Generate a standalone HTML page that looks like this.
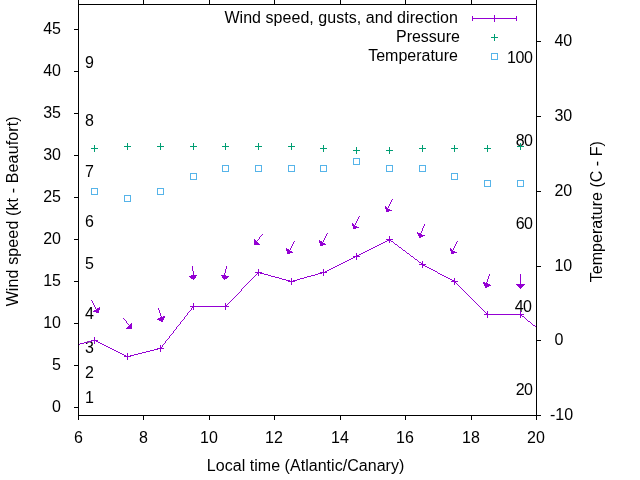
<!DOCTYPE html>
<html><head><meta charset="utf-8"><title>Wind speed, gusts, and direction</title>
<style>
html,body{margin:0;padding:0;background:#fff;}
svg{display:block;}
text{font-family:"Liberation Sans",sans-serif;font-size:16px;fill:#000;}
</style></head><body>
<svg width="640" height="480" viewBox="0 0 640 480">
<rect width="640" height="480" fill="#fff"/>
<g text-anchor="end">
<text x="61" y="412">0</text>
<text x="61" y="370">5</text>
<text x="61" y="328">10</text>
<text x="61" y="286">15</text>
<text x="61" y="244">20</text>
<text x="61" y="202">25</text>
<text x="61" y="160">30</text>
<text x="61" y="118">35</text>
<text x="61" y="76">40</text>
<text x="61" y="34">45</text>
</g>
<g text-anchor="start">
<text x="550" y="420">-10</text>
<text x="554.4" y="345">0</text>
<text x="554.4" y="271">10</text>
<text x="554.4" y="196">20</text>
<text x="554.4" y="121">30</text>
<text x="554.4" y="46">40</text>
</g>
<g text-anchor="middle">
<text x="78.5" y="443">6</text>
<text x="143.5" y="443">8</text>
<text x="208.9" y="443">10</text>
<text x="273.9" y="443">12</text>
<text x="339.9" y="443">14</text>
<text x="404.9" y="443">16</text>
<text x="470.9" y="443">18</text>
<text x="535.9" y="443">20</text>
</g>
<text text-anchor="middle" letter-spacing="0.13" transform="translate(18,211.3) rotate(-90)">Wind speed (kt - Beaufort)</text>
<text text-anchor="middle" letter-spacing="0.03" transform="translate(602,211.7) rotate(-90)">Temperature (C - F)</text>
<text text-anchor="middle" x="305.6" y="471" letter-spacing="0.035">Local time (Atlantic/Canary)</text>
<g text-anchor="start">
<text x="85" y="403">1</text>
<text x="85" y="378">2</text>
<text x="85" y="353">3</text>
<text x="85" y="319">4</text>
<text x="85" y="269">5</text>
<text x="85" y="227">6</text>
<text x="85" y="177">7</text>
<text x="85" y="126">8</text>
<text x="85" y="68">9</text>
</g>
<g text-anchor="end">
<text x="532.3" y="395" letter-spacing="-0.6">20</text>
<text x="531.4" y="312" letter-spacing="-0.6">40</text>
<text x="532.3" y="229" letter-spacing="-0.6">60</text>
<text x="532.3" y="146" letter-spacing="-0.6">80</text>
<text x="532.6" y="63" letter-spacing="-0.4">100</text>
</g>
<g text-anchor="end">
<text x="458" y="23" letter-spacing="0.045">Wind speed, gusts, and direction</text>
<text x="460" y="42">Pressure</text>
<text x="458" y="61">Temperature</text>
</g>
<g shape-rendering="crispEdges" stroke="none">
<path fill="#9400d3" d="M494 15h1v1h-1zM472 16h1v1h-1zM494 16h1v1h-1zM516 16h1v1h-1zM472 17h1v1h-1zM494 17h1v1h-1zM516 17h1v1h-1zM472 18h45v1h-45zM472 19h1v1h-1zM494 19h1v1h-1zM516 19h1v1h-1zM472 20h1v1h-1zM494 20h1v1h-1zM516 20h1v1h-1zM494 21h1v1h-1zM392 199h1v1h-1zM391 200h1v1h-1zM391 201h1v1h-1zM390 202h1v1h-1zM390 203h1v1h-1zM389 204h1v1h-1zM389 205h1v1h-1zM385 206h1v1h-1zM388 206h1v1h-1zM385 207h2v1h-2zM388 207h1v1h-1zM385 208h3v1h-3zM386 209h4v1h-4zM386 210h6v1h-6zM386 211h3v1h-3zM359 216h1v1h-1zM358 217h1v1h-1zM358 218h1v1h-1zM357 219h1v1h-1zM357 220h1v1h-1zM356 221h1v1h-1zM356 222h1v1h-1zM352 223h1v1h-1zM355 223h1v1h-1zM352 224h2v1h-2zM355 224h1v1h-1zM424 224h1v1h-1zM352 225h3v1h-3zM424 225h1v1h-1zM353 226h4v1h-4zM423 226h1v1h-1zM353 227h6v1h-6zM423 227h1v1h-1zM353 228h3v1h-3zM422 228h1v1h-1zM422 229h1v1h-1zM422 230h1v1h-1zM421 231h1v1h-1zM417 232h1v1h-1zM421 232h1v1h-1zM327 233h1v1h-1zM417 233h4v1h-4zM262 234h1v1h-1zM326 234h1v1h-1zM418 234h4v1h-4zM261 235h1v1h-1zM326 235h1v1h-1zM418 235h7v1h-7zM260 236h1v1h-1zM325 236h1v1h-1zM389 236h1v1h-1zM419 236h4v1h-4zM259 237h1v1h-1zM325 237h1v1h-1zM389 237h1v1h-1zM419 237h2v1h-2zM259 238h1v1h-1zM324 238h1v1h-1zM389 238h1v1h-1zM254 239h1v1h-1zM258 239h1v1h-1zM324 239h1v1h-1zM386 239h7v1h-7zM254 240h2v1h-2zM257 240h1v1h-1zM319 240h1v1h-1zM323 240h1v1h-1zM387 240h4v1h-4zM254 241h3v1h-3zM294 241h1v1h-1zM319 241h3v1h-3zM323 241h1v1h-1zM385 241h2v1h-2zM389 241h1v1h-1zM391 241h2v1h-2zM457 241h1v1h-1zM254 242h4v1h-4zM293 242h1v1h-1zM319 242h4v1h-4zM383 242h2v1h-2zM389 242h1v1h-1zM393 242h1v1h-1zM456 242h1v1h-1zM254 243h5v1h-5zM293 243h1v1h-1zM320 243h5v1h-5zM381 243h2v1h-2zM394 243h1v1h-1zM456 243h1v1h-1zM254 244h6v1h-6zM292 244h1v1h-1zM320 244h6v1h-6zM379 244h2v1h-2zM395 244h2v1h-2zM455 244h1v1h-1zM292 245h1v1h-1zM320 245h3v1h-3zM377 245h2v1h-2zM397 245h1v1h-1zM455 245h1v1h-1zM291 246h1v1h-1zM375 246h2v1h-2zM398 246h1v1h-1zM454 246h1v1h-1zM291 247h1v1h-1zM373 247h2v1h-2zM399 247h2v1h-2zM454 247h1v1h-1zM286 248h1v1h-1zM290 248h1v1h-1zM371 248h2v1h-2zM401 248h1v1h-1zM450 248h1v1h-1zM453 248h1v1h-1zM286 249h3v1h-3zM290 249h1v1h-1zM369 249h2v1h-2zM402 249h1v1h-1zM450 249h2v1h-2zM453 249h1v1h-1zM286 250h4v1h-4zM367 250h2v1h-2zM403 250h2v1h-2zM450 250h3v1h-3zM287 251h5v1h-5zM365 251h2v1h-2zM405 251h1v1h-1zM451 251h4v1h-4zM287 252h6v1h-6zM363 252h2v1h-2zM406 252h1v1h-1zM451 252h6v1h-6zM287 253h3v1h-3zM356 253h1v1h-1zM361 253h2v1h-2zM407 253h2v1h-2zM451 253h3v1h-3zM356 254h1v1h-1zM359 254h2v1h-2zM409 254h1v1h-1zM356 255h3v1h-3zM410 255h1v1h-1zM353 256h7v1h-7zM411 256h2v1h-2zM353 257h2v1h-2zM356 257h1v1h-1zM413 257h1v1h-1zM351 258h2v1h-2zM356 258h1v1h-1zM414 258h1v1h-1zM349 259h2v1h-2zM356 259h1v1h-1zM415 259h2v1h-2zM347 260h2v1h-2zM417 260h1v1h-1zM345 261h2v1h-2zM418 261h1v1h-1zM422 261h1v1h-1zM343 262h2v1h-2zM419 262h2v1h-2zM422 262h1v1h-1zM341 263h2v1h-2zM421 263h2v1h-2zM339 264h2v1h-2zM419 264h7v1h-7zM337 265h2v1h-2zM422 265h3v1h-3zM192 266h1v1h-1zM226 266h1v1h-1zM335 266h2v1h-2zM422 266h1v1h-1zM425 266h2v1h-2zM192 267h1v1h-1zM226 267h1v1h-1zM333 267h2v1h-2zM422 267h1v1h-1zM427 267h2v1h-2zM192 268h1v1h-1zM226 268h1v1h-1zM331 268h2v1h-2zM429 268h2v1h-2zM192 269h1v1h-1zM225 269h1v1h-1zM258 269h1v1h-1zM323 269h1v1h-1zM329 269h2v1h-2zM431 269h2v1h-2zM192 270h1v1h-1zM225 270h1v1h-1zM258 270h1v1h-1zM323 270h1v1h-1zM327 270h2v1h-2zM433 270h2v1h-2zM193 271h1v1h-1zM225 271h1v1h-1zM258 271h1v1h-1zM323 271h1v1h-1zM325 271h2v1h-2zM435 271h2v1h-2zM193 272h1v1h-1zM225 272h1v1h-1zM255 272h7v1h-7zM320 272h7v1h-7zM437 272h1v1h-1zM193 273h1v1h-1zM224 273h1v1h-1zM257 273h2v1h-2zM260 273h4v1h-4zM318 273h4v1h-4zM323 273h1v1h-1zM438 273h2v1h-2zM193 274h1v1h-1zM224 274h1v1h-1zM256 274h1v1h-1zM258 274h1v1h-1zM264 274h4v1h-4zM315 274h3v1h-3zM323 274h1v1h-1zM440 274h2v1h-2zM489 274h1v1h-1zM520 274h1v1h-1zM191 275h6v1h-6zM221 275h5v1h-5zM255 275h1v1h-1zM258 275h1v1h-1zM268 275h3v1h-3zM311 275h4v1h-4zM323 275h1v1h-1zM442 275h2v1h-2zM489 275h1v1h-1zM520 275h1v1h-1zM189 276h7v1h-7zM222 276h7v1h-7zM254 276h1v1h-1zM271 276h4v1h-4zM307 276h4v1h-4zM444 276h2v1h-2zM488 276h1v1h-1zM520 276h1v1h-1zM190 277h6v1h-6zM222 277h6v1h-6zM253 277h1v1h-1zM275 277h4v1h-4zM304 277h3v1h-3zM446 277h2v1h-2zM488 277h1v1h-1zM520 277h1v1h-1zM191 278h4v1h-4zM223 278h4v1h-4zM252 278h1v1h-1zM279 278h3v1h-3zM291 278h1v1h-1zM300 278h4v1h-4zM448 278h2v1h-2zM454 278h1v1h-1zM488 278h1v1h-1zM520 278h1v1h-1zM193 279h1v1h-1zM224 279h1v1h-1zM251 279h1v1h-1zM282 279h4v1h-4zM291 279h1v1h-1zM297 279h3v1h-3zM450 279h2v1h-2zM454 279h1v1h-1zM487 279h1v1h-1zM520 279h1v1h-1zM250 280h1v1h-1zM286 280h4v1h-4zM291 280h1v1h-1zM293 280h4v1h-4zM452 280h3v1h-3zM487 280h1v1h-1zM520 280h1v1h-1zM249 281h1v1h-1zM288 281h7v1h-7zM451 281h7v1h-7zM487 281h1v1h-1zM520 281h1v1h-1zM248 282h1v1h-1zM291 282h1v1h-1zM454 282h2v1h-2zM483 282h2v1h-2zM486 282h1v1h-1zM520 282h1v1h-1zM247 283h1v1h-1zM291 283h1v1h-1zM454 283h1v1h-1zM456 283h1v1h-1zM483 283h5v1h-5zM520 283h1v1h-1zM246 284h1v1h-1zM291 284h1v1h-1zM454 284h1v1h-1zM457 284h1v1h-1zM484 284h6v1h-6zM516 284h9v1h-9zM245 285h1v1h-1zM458 285h1v1h-1zM484 285h7v1h-7zM517 285h7v1h-7zM244 286h1v1h-1zM459 286h1v1h-1zM485 286h4v1h-4zM518 286h5v1h-5zM243 287h1v1h-1zM460 287h1v1h-1zM485 287h2v1h-2zM519 287h3v1h-3zM242 288h1v1h-1zM461 288h1v1h-1zM520 288h1v1h-1zM241 289h1v1h-1zM462 289h1v1h-1zM241 290h1v1h-1zM463 290h1v1h-1zM240 291h1v1h-1zM464 291h1v1h-1zM239 292h1v1h-1zM465 292h1v1h-1zM238 293h1v1h-1zM466 293h1v1h-1zM237 294h1v1h-1zM467 294h1v1h-1zM236 295h1v1h-1zM468 295h1v1h-1zM235 296h1v1h-1zM469 296h1v1h-1zM234 297h1v1h-1zM470 297h1v1h-1zM233 298h1v1h-1zM471 298h1v1h-1zM232 299h1v1h-1zM472 299h1v1h-1zM91 300h1v1h-1zM231 300h1v1h-1zM473 300h1v1h-1zM92 301h1v1h-1zM230 301h1v1h-1zM474 301h1v1h-1zM92 302h1v1h-1zM229 302h1v1h-1zM475 302h1v1h-1zM93 303h1v1h-1zM193 303h1v1h-1zM225 303h1v1h-1zM228 303h1v1h-1zM476 303h1v1h-1zM93 304h1v1h-1zM193 304h1v1h-1zM225 304h1v1h-1zM227 304h1v1h-1zM477 304h1v1h-1zM94 305h1v1h-1zM193 305h1v1h-1zM225 305h2v1h-2zM478 305h1v1h-1zM94 306h1v1h-1zM190 306h39v1h-39zM479 306h1v1h-1zM95 307h1v1h-1zM99 307h1v1h-1zM192 307h2v1h-2zM225 307h1v1h-1zM480 307h1v1h-1zM95 308h1v1h-1zM97 308h3v1h-3zM158 308h1v1h-1zM191 308h1v1h-1zM193 308h1v1h-1zM225 308h1v1h-1zM481 308h1v1h-1zM96 309h4v1h-4zM158 309h1v1h-1zM191 309h1v1h-1zM193 309h1v1h-1zM225 309h1v1h-1zM482 309h1v1h-1zM94 310h5v1h-5zM159 310h1v1h-1zM190 310h1v1h-1zM483 310h1v1h-1zM93 311h6v1h-6zM159 311h1v1h-1zM189 311h1v1h-1zM484 311h1v1h-1zM487 311h1v1h-1zM520 311h1v1h-1zM96 312h3v1h-3zM159 312h1v1h-1zM188 312h1v1h-1zM485 312h1v1h-1zM487 312h1v1h-1zM520 312h1v1h-1zM160 313h1v1h-1zM187 313h1v1h-1zM486 313h2v1h-2zM520 313h1v1h-1zM160 314h1v1h-1zM187 314h1v1h-1zM484 314h40v1h-40zM160 315h1v1h-1zM186 315h1v1h-1zM487 315h1v1h-1zM520 315h2v1h-2zM161 316h1v1h-1zM163 316h2v1h-2zM185 316h1v1h-1zM487 316h1v1h-1zM520 316h1v1h-1zM522 316h2v1h-2zM160 317h5v1h-5zM184 317h1v1h-1zM487 317h1v1h-1zM520 317h1v1h-1zM524 317h1v1h-1zM123 318h1v1h-1zM158 318h6v1h-6zM184 318h1v1h-1zM525 318h1v1h-1zM124 319h1v1h-1zM157 319h7v1h-7zM183 319h1v1h-1zM526 319h1v1h-1zM125 320h1v1h-1zM159 320h4v1h-4zM182 320h1v1h-1zM527 320h1v1h-1zM126 321h1v1h-1zM161 321h2v1h-2zM181 321h1v1h-1zM528 321h2v1h-2zM126 322h1v1h-1zM180 322h1v1h-1zM530 322h1v1h-1zM127 323h1v1h-1zM131 323h1v1h-1zM180 323h1v1h-1zM531 323h1v1h-1zM128 324h1v1h-1zM130 324h2v1h-2zM179 324h1v1h-1zM532 324h1v1h-1zM129 325h3v1h-3zM178 325h1v1h-1zM533 325h2v1h-2zM128 326h4v1h-4zM177 326h1v1h-1zM535 326h1v1h-1zM127 327h5v1h-5zM176 327h1v1h-1zM536 327h1v1h-1zM126 328h6v1h-6zM176 328h1v1h-1zM175 329h1v1h-1zM174 330h1v1h-1zM173 331h1v1h-1zM173 332h1v1h-1zM172 333h1v1h-1zM171 334h1v1h-1zM170 335h1v1h-1zM169 336h1v1h-1zM94 337h1v1h-1zM169 337h1v1h-1zM94 338h1v1h-1zM168 338h1v1h-1zM94 339h1v1h-1zM167 339h1v1h-1zM91 340h7v1h-7zM166 340h1v1h-1zM88 341h4v1h-4zM94 341h1v1h-1zM96 341h2v1h-2zM165 341h1v1h-1zM84 342h4v1h-4zM94 342h1v1h-1zM98 342h2v1h-2zM165 342h1v1h-1zM80 343h4v1h-4zM94 343h1v1h-1zM100 343h2v1h-2zM164 343h1v1h-1zM78 344h2v1h-2zM102 344h2v1h-2zM163 344h1v1h-1zM104 345h2v1h-2zM160 345h1v1h-1zM162 345h1v1h-1zM106 346h2v1h-2zM160 346h1v1h-1zM162 346h1v1h-1zM108 347h2v1h-2zM160 347h2v1h-2zM110 348h2v1h-2zM157 348h7v1h-7zM112 349h2v1h-2zM154 349h4v1h-4zM160 349h1v1h-1zM114 350h2v1h-2zM150 350h4v1h-4zM160 350h1v1h-1zM116 351h2v1h-2zM146 351h4v1h-4zM160 351h1v1h-1zM118 352h2v1h-2zM142 352h4v1h-4zM120 353h2v1h-2zM127 353h1v1h-1zM138 353h4v1h-4zM122 354h2v1h-2zM127 354h1v1h-1zM134 354h4v1h-4zM124 355h2v1h-2zM127 355h1v1h-1zM130 355h4v1h-4zM124 356h7v1h-7zM127 357h1v1h-1zM127 358h1v1h-1zM127 359h1v1h-1z"/>
<path fill="#009e73" d="M494 34h1v1h-1zM494 35h1v1h-1zM494 36h1v1h-1zM491 37h7v1h-7zM494 38h1v1h-1zM494 39h1v1h-1zM494 40h1v1h-1zM127 143h1v1h-1zM160 143h1v1h-1zM193 143h1v1h-1zM225 143h1v1h-1zM258 143h1v1h-1zM291 143h1v1h-1zM520 143h1v1h-1zM127 144h1v1h-1zM160 144h1v1h-1zM193 144h1v1h-1zM225 144h1v1h-1zM258 144h1v1h-1zM291 144h1v1h-1zM520 144h1v1h-1zM94 145h1v1h-1zM127 145h1v1h-1zM160 145h1v1h-1zM193 145h1v1h-1zM225 145h1v1h-1zM258 145h1v1h-1zM291 145h1v1h-1zM323 145h1v1h-1zM422 145h1v1h-1zM454 145h1v1h-1zM487 145h1v1h-1zM520 145h1v1h-1zM94 146h1v1h-1zM124 146h7v1h-7zM157 146h7v1h-7zM190 146h7v1h-7zM222 146h7v1h-7zM255 146h7v1h-7zM288 146h7v1h-7zM323 146h1v1h-1zM422 146h1v1h-1zM454 146h1v1h-1zM487 146h1v1h-1zM517 146h7v1h-7zM94 147h1v1h-1zM127 147h1v1h-1zM160 147h1v1h-1zM193 147h1v1h-1zM225 147h1v1h-1zM258 147h1v1h-1zM291 147h1v1h-1zM323 147h1v1h-1zM356 147h1v1h-1zM389 147h1v1h-1zM422 147h1v1h-1zM454 147h1v1h-1zM487 147h1v1h-1zM520 147h1v1h-1zM91 148h7v1h-7zM127 148h1v1h-1zM160 148h1v1h-1zM193 148h1v1h-1zM225 148h1v1h-1zM258 148h1v1h-1zM291 148h1v1h-1zM320 148h7v1h-7zM356 148h1v1h-1zM389 148h1v1h-1zM419 148h7v1h-7zM451 148h7v1h-7zM484 148h7v1h-7zM520 148h1v1h-1zM94 149h1v1h-1zM127 149h1v1h-1zM160 149h1v1h-1zM193 149h1v1h-1zM225 149h1v1h-1zM258 149h1v1h-1zM291 149h1v1h-1zM323 149h1v1h-1zM356 149h1v1h-1zM389 149h1v1h-1zM422 149h1v1h-1zM454 149h1v1h-1zM487 149h1v1h-1zM520 149h1v1h-1zM94 150h1v1h-1zM323 150h1v1h-1zM353 150h7v1h-7zM386 150h7v1h-7zM422 150h1v1h-1zM454 150h1v1h-1zM487 150h1v1h-1zM94 151h1v1h-1zM323 151h1v1h-1zM356 151h1v1h-1zM389 151h1v1h-1zM422 151h1v1h-1zM454 151h1v1h-1zM487 151h1v1h-1zM356 152h1v1h-1zM389 152h1v1h-1zM356 153h1v1h-1zM389 153h1v1h-1z"/>
<path fill="#56b4e9" d="M491 53h7v1h-7zM491 54h1v1h-1zM497 54h1v1h-1zM491 55h1v1h-1zM497 55h1v1h-1zM491 56h1v1h-1zM497 56h1v1h-1zM491 57h1v1h-1zM497 57h1v1h-1zM491 58h1v1h-1zM497 58h1v1h-1zM491 59h7v1h-7zM353 158h7v1h-7zM353 159h1v1h-1zM359 159h1v1h-1zM353 160h1v1h-1zM359 160h1v1h-1zM353 161h1v1h-1zM359 161h1v1h-1zM353 162h1v1h-1zM359 162h1v1h-1zM353 163h1v1h-1zM359 163h1v1h-1zM353 164h7v1h-7zM222 165h7v1h-7zM255 165h7v1h-7zM288 165h7v1h-7zM320 165h7v1h-7zM386 165h7v1h-7zM419 165h7v1h-7zM222 166h1v1h-1zM228 166h1v1h-1zM255 166h1v1h-1zM261 166h1v1h-1zM288 166h1v1h-1zM294 166h1v1h-1zM320 166h1v1h-1zM326 166h1v1h-1zM386 166h1v1h-1zM392 166h1v1h-1zM419 166h1v1h-1zM425 166h1v1h-1zM222 167h1v1h-1zM228 167h1v1h-1zM255 167h1v1h-1zM261 167h1v1h-1zM288 167h1v1h-1zM294 167h1v1h-1zM320 167h1v1h-1zM326 167h1v1h-1zM386 167h1v1h-1zM392 167h1v1h-1zM419 167h1v1h-1zM425 167h1v1h-1zM222 168h1v1h-1zM228 168h1v1h-1zM255 168h1v1h-1zM261 168h1v1h-1zM288 168h1v1h-1zM294 168h1v1h-1zM320 168h1v1h-1zM326 168h1v1h-1zM386 168h1v1h-1zM392 168h1v1h-1zM419 168h1v1h-1zM425 168h1v1h-1zM222 169h1v1h-1zM228 169h1v1h-1zM255 169h1v1h-1zM261 169h1v1h-1zM288 169h1v1h-1zM294 169h1v1h-1zM320 169h1v1h-1zM326 169h1v1h-1zM386 169h1v1h-1zM392 169h1v1h-1zM419 169h1v1h-1zM425 169h1v1h-1zM222 170h1v1h-1zM228 170h1v1h-1zM255 170h1v1h-1zM261 170h1v1h-1zM288 170h1v1h-1zM294 170h1v1h-1zM320 170h1v1h-1zM326 170h1v1h-1zM386 170h1v1h-1zM392 170h1v1h-1zM419 170h1v1h-1zM425 170h1v1h-1zM222 171h7v1h-7zM255 171h7v1h-7zM288 171h7v1h-7zM320 171h7v1h-7zM386 171h7v1h-7zM419 171h7v1h-7zM190 173h7v1h-7zM451 173h7v1h-7zM190 174h1v1h-1zM196 174h1v1h-1zM451 174h1v1h-1zM457 174h1v1h-1zM190 175h1v1h-1zM196 175h1v1h-1zM451 175h1v1h-1zM457 175h1v1h-1zM190 176h1v1h-1zM196 176h1v1h-1zM451 176h1v1h-1zM457 176h1v1h-1zM190 177h1v1h-1zM196 177h1v1h-1zM451 177h1v1h-1zM457 177h1v1h-1zM190 178h1v1h-1zM196 178h1v1h-1zM451 178h1v1h-1zM457 178h1v1h-1zM190 179h7v1h-7zM451 179h7v1h-7zM484 180h7v1h-7zM517 180h7v1h-7zM484 181h1v1h-1zM490 181h1v1h-1zM517 181h1v1h-1zM523 181h1v1h-1zM484 182h1v1h-1zM490 182h1v1h-1zM517 182h1v1h-1zM523 182h1v1h-1zM484 183h1v1h-1zM490 183h1v1h-1zM517 183h1v1h-1zM523 183h1v1h-1zM484 184h1v1h-1zM490 184h1v1h-1zM517 184h1v1h-1zM523 184h1v1h-1zM484 185h1v1h-1zM490 185h1v1h-1zM517 185h1v1h-1zM523 185h1v1h-1zM484 186h7v1h-7zM517 186h7v1h-7zM91 188h7v1h-7zM157 188h7v1h-7zM91 189h1v1h-1zM97 189h1v1h-1zM157 189h1v1h-1zM163 189h1v1h-1zM91 190h1v1h-1zM97 190h1v1h-1zM157 190h1v1h-1zM163 190h1v1h-1zM91 191h1v1h-1zM97 191h1v1h-1zM157 191h1v1h-1zM163 191h1v1h-1zM91 192h1v1h-1zM97 192h1v1h-1zM157 192h1v1h-1zM163 192h1v1h-1zM91 193h1v1h-1zM97 193h1v1h-1zM157 193h1v1h-1zM163 193h1v1h-1zM91 194h7v1h-7zM157 194h7v1h-7zM124 195h7v1h-7zM124 196h1v1h-1zM130 196h1v1h-1zM124 197h1v1h-1zM130 197h1v1h-1zM124 198h1v1h-1zM130 198h1v1h-1zM124 199h1v1h-1zM130 199h1v1h-1zM124 200h1v1h-1zM130 200h1v1h-1zM124 201h7v1h-7z"/>
<path fill="#000000" d="M78 0h1v1h-1zM143 0h1v1h-1zM209 0h1v1h-1zM274 0h1v1h-1zM340 0h1v1h-1zM405 0h1v1h-1zM471 0h1v1h-1zM536 0h1v1h-1zM78 1h1v1h-1zM143 1h1v1h-1zM209 1h1v1h-1zM274 1h1v1h-1zM340 1h1v1h-1zM405 1h1v1h-1zM471 1h1v1h-1zM536 1h1v1h-1zM78 2h1v1h-1zM143 2h1v1h-1zM209 2h1v1h-1zM274 2h1v1h-1zM340 2h1v1h-1zM405 2h1v1h-1zM471 2h1v1h-1zM536 2h1v1h-1zM78 3h1v1h-1zM143 3h1v1h-1zM209 3h1v1h-1zM274 3h1v1h-1zM340 3h1v1h-1zM405 3h1v1h-1zM471 3h1v1h-1zM536 3h1v1h-1zM78 4h459v1h-459zM78 5h1v1h-1zM536 5h1v1h-1zM78 6h1v1h-1zM536 6h1v1h-1zM78 7h1v1h-1zM536 7h1v1h-1zM78 8h1v1h-1zM536 8h1v1h-1zM78 9h1v1h-1zM536 9h1v1h-1zM78 10h1v1h-1zM536 10h1v1h-1zM78 11h1v1h-1zM536 11h1v1h-1zM78 12h1v1h-1zM536 12h1v1h-1zM78 13h1v1h-1zM536 13h1v1h-1zM78 14h1v1h-1zM536 14h1v1h-1zM78 15h1v1h-1zM536 15h1v1h-1zM78 16h1v1h-1zM536 16h1v1h-1zM78 17h1v1h-1zM536 17h1v1h-1zM78 18h1v1h-1zM536 18h1v1h-1zM78 19h1v1h-1zM536 19h1v1h-1zM78 20h1v1h-1zM536 20h1v1h-1zM78 21h1v1h-1zM536 21h1v1h-1zM78 22h1v1h-1zM536 22h1v1h-1zM78 23h1v1h-1zM536 23h1v1h-1zM78 24h1v1h-1zM536 24h1v1h-1zM78 25h1v1h-1zM536 25h1v1h-1zM78 26h1v1h-1zM536 26h1v1h-1zM78 27h1v1h-1zM536 27h1v1h-1zM78 28h1v1h-1zM536 28h1v1h-1zM74 29h5v1h-5zM536 29h1v1h-1zM78 30h1v1h-1zM536 30h1v1h-1zM78 31h1v1h-1zM536 31h1v1h-1zM78 32h1v1h-1zM536 32h1v1h-1zM78 33h1v1h-1zM536 33h1v1h-1zM78 34h1v1h-1zM536 34h1v1h-1zM78 35h1v1h-1zM536 35h1v1h-1zM78 36h1v1h-1zM536 36h1v1h-1zM78 37h1v1h-1zM536 37h1v1h-1zM78 38h1v1h-1zM536 38h1v1h-1zM78 39h1v1h-1zM536 39h1v1h-1zM78 40h1v1h-1zM536 40h1v1h-1zM78 41h1v1h-1zM536 41h5v1h-5zM78 42h1v1h-1zM536 42h1v1h-1zM78 43h1v1h-1zM536 43h1v1h-1zM78 44h1v1h-1zM536 44h1v1h-1zM78 45h1v1h-1zM536 45h1v1h-1zM78 46h1v1h-1zM536 46h1v1h-1zM78 47h1v1h-1zM536 47h1v1h-1zM78 48h1v1h-1zM536 48h1v1h-1zM78 49h1v1h-1zM536 49h1v1h-1zM78 50h1v1h-1zM536 50h1v1h-1zM78 51h1v1h-1zM536 51h1v1h-1zM78 52h1v1h-1zM536 52h1v1h-1zM78 53h1v1h-1zM536 53h1v1h-1zM78 54h1v1h-1zM536 54h1v1h-1zM78 55h1v1h-1zM536 55h1v1h-1zM78 56h1v1h-1zM536 56h1v1h-1zM78 57h1v1h-1zM536 57h1v1h-1zM78 58h1v1h-1zM536 58h1v1h-1zM78 59h1v1h-1zM536 59h1v1h-1zM78 60h1v1h-1zM536 60h1v1h-1zM78 61h1v1h-1zM536 61h1v1h-1zM78 62h1v1h-1zM536 62h1v1h-1zM78 63h1v1h-1zM536 63h1v1h-1zM78 64h1v1h-1zM536 64h1v1h-1zM78 65h1v1h-1zM536 65h1v1h-1zM78 66h1v1h-1zM536 66h1v1h-1zM78 67h1v1h-1zM536 67h1v1h-1zM78 68h1v1h-1zM536 68h1v1h-1zM78 69h1v1h-1zM536 69h1v1h-1zM78 70h1v1h-1zM536 70h1v1h-1zM74 71h5v1h-5zM536 71h1v1h-1zM78 72h1v1h-1zM536 72h1v1h-1zM78 73h1v1h-1zM536 73h1v1h-1zM78 74h1v1h-1zM536 74h1v1h-1zM78 75h1v1h-1zM536 75h1v1h-1zM78 76h1v1h-1zM536 76h1v1h-1zM78 77h1v1h-1zM536 77h1v1h-1zM78 78h1v1h-1zM536 78h1v1h-1zM78 79h1v1h-1zM536 79h1v1h-1zM78 80h1v1h-1zM536 80h1v1h-1zM78 81h1v1h-1zM536 81h1v1h-1zM78 82h1v1h-1zM536 82h1v1h-1zM78 83h1v1h-1zM536 83h1v1h-1zM78 84h1v1h-1zM536 84h1v1h-1zM78 85h1v1h-1zM536 85h1v1h-1zM78 86h1v1h-1zM536 86h1v1h-1zM78 87h1v1h-1zM536 87h1v1h-1zM78 88h1v1h-1zM536 88h1v1h-1zM78 89h1v1h-1zM536 89h1v1h-1zM78 90h1v1h-1zM536 90h1v1h-1zM78 91h1v1h-1zM536 91h1v1h-1zM78 92h1v1h-1zM536 92h1v1h-1zM78 93h1v1h-1zM536 93h1v1h-1zM78 94h1v1h-1zM536 94h1v1h-1zM78 95h1v1h-1zM536 95h1v1h-1zM78 96h1v1h-1zM536 96h1v1h-1zM78 97h1v1h-1zM536 97h1v1h-1zM78 98h1v1h-1zM536 98h1v1h-1zM78 99h1v1h-1zM536 99h1v1h-1zM78 100h1v1h-1zM536 100h1v1h-1zM78 101h1v1h-1zM536 101h1v1h-1zM78 102h1v1h-1zM536 102h1v1h-1zM78 103h1v1h-1zM536 103h1v1h-1zM78 104h1v1h-1zM536 104h1v1h-1zM78 105h1v1h-1zM536 105h1v1h-1zM78 106h1v1h-1zM536 106h1v1h-1zM78 107h1v1h-1zM536 107h1v1h-1zM78 108h1v1h-1zM536 108h1v1h-1zM78 109h1v1h-1zM536 109h1v1h-1zM78 110h1v1h-1zM536 110h1v1h-1zM78 111h1v1h-1zM536 111h1v1h-1zM78 112h1v1h-1zM536 112h1v1h-1zM74 113h5v1h-5zM536 113h1v1h-1zM78 114h1v1h-1zM536 114h1v1h-1zM78 115h1v1h-1zM536 115h1v1h-1zM78 116h1v1h-1zM536 116h5v1h-5zM78 117h1v1h-1zM536 117h1v1h-1zM78 118h1v1h-1zM536 118h1v1h-1zM78 119h1v1h-1zM536 119h1v1h-1zM78 120h1v1h-1zM536 120h1v1h-1zM78 121h1v1h-1zM536 121h1v1h-1zM78 122h1v1h-1zM536 122h1v1h-1zM78 123h1v1h-1zM536 123h1v1h-1zM78 124h1v1h-1zM536 124h1v1h-1zM78 125h1v1h-1zM536 125h1v1h-1zM78 126h1v1h-1zM536 126h1v1h-1zM78 127h1v1h-1zM536 127h1v1h-1zM78 128h1v1h-1zM536 128h1v1h-1zM78 129h1v1h-1zM536 129h1v1h-1zM78 130h1v1h-1zM536 130h1v1h-1zM78 131h1v1h-1zM536 131h1v1h-1zM78 132h1v1h-1zM536 132h1v1h-1zM78 133h1v1h-1zM536 133h1v1h-1zM78 134h1v1h-1zM536 134h1v1h-1zM78 135h1v1h-1zM536 135h1v1h-1zM78 136h1v1h-1zM536 136h1v1h-1zM78 137h1v1h-1zM536 137h1v1h-1zM78 138h1v1h-1zM536 138h1v1h-1zM78 139h1v1h-1zM536 139h1v1h-1zM78 140h1v1h-1zM536 140h1v1h-1zM78 141h1v1h-1zM536 141h1v1h-1zM78 142h1v1h-1zM536 142h1v1h-1zM78 143h1v1h-1zM536 143h1v1h-1zM78 144h1v1h-1zM536 144h1v1h-1zM78 145h1v1h-1zM536 145h1v1h-1zM78 146h1v1h-1zM536 146h1v1h-1zM78 147h1v1h-1zM536 147h1v1h-1zM78 148h1v1h-1zM536 148h1v1h-1zM78 149h1v1h-1zM536 149h1v1h-1zM78 150h1v1h-1zM536 150h1v1h-1zM78 151h1v1h-1zM536 151h1v1h-1zM78 152h1v1h-1zM536 152h1v1h-1zM78 153h1v1h-1zM536 153h1v1h-1zM78 154h1v1h-1zM536 154h1v1h-1zM74 155h5v1h-5zM536 155h1v1h-1zM78 156h1v1h-1zM536 156h1v1h-1zM78 157h1v1h-1zM536 157h1v1h-1zM78 158h1v1h-1zM536 158h1v1h-1zM78 159h1v1h-1zM536 159h1v1h-1zM78 160h1v1h-1zM536 160h1v1h-1zM78 161h1v1h-1zM536 161h1v1h-1zM78 162h1v1h-1zM536 162h1v1h-1zM78 163h1v1h-1zM536 163h1v1h-1zM78 164h1v1h-1zM536 164h1v1h-1zM78 165h1v1h-1zM536 165h1v1h-1zM78 166h1v1h-1zM536 166h1v1h-1zM78 167h1v1h-1zM536 167h1v1h-1zM78 168h1v1h-1zM536 168h1v1h-1zM78 169h1v1h-1zM536 169h1v1h-1zM78 170h1v1h-1zM536 170h1v1h-1zM78 171h1v1h-1zM536 171h1v1h-1zM78 172h1v1h-1zM536 172h1v1h-1zM78 173h1v1h-1zM536 173h1v1h-1zM78 174h1v1h-1zM536 174h1v1h-1zM78 175h1v1h-1zM536 175h1v1h-1zM78 176h1v1h-1zM536 176h1v1h-1zM78 177h1v1h-1zM536 177h1v1h-1zM78 178h1v1h-1zM536 178h1v1h-1zM78 179h1v1h-1zM536 179h1v1h-1zM78 180h1v1h-1zM536 180h1v1h-1zM78 181h1v1h-1zM536 181h1v1h-1zM78 182h1v1h-1zM536 182h1v1h-1zM78 183h1v1h-1zM536 183h1v1h-1zM78 184h1v1h-1zM536 184h1v1h-1zM78 185h1v1h-1zM536 185h1v1h-1zM78 186h1v1h-1zM536 186h1v1h-1zM78 187h1v1h-1zM536 187h1v1h-1zM78 188h1v1h-1zM536 188h1v1h-1zM78 189h1v1h-1zM536 189h1v1h-1zM78 190h1v1h-1zM536 190h1v1h-1zM78 191h1v1h-1zM536 191h5v1h-5zM78 192h1v1h-1zM536 192h1v1h-1zM78 193h1v1h-1zM536 193h1v1h-1zM78 194h1v1h-1zM536 194h1v1h-1zM78 195h1v1h-1zM536 195h1v1h-1zM78 196h1v1h-1zM536 196h1v1h-1zM74 197h5v1h-5zM536 197h1v1h-1zM78 198h1v1h-1zM536 198h1v1h-1zM78 199h1v1h-1zM536 199h1v1h-1zM78 200h1v1h-1zM536 200h1v1h-1zM78 201h1v1h-1zM536 201h1v1h-1zM78 202h1v1h-1zM536 202h1v1h-1zM78 203h1v1h-1zM536 203h1v1h-1zM78 204h1v1h-1zM536 204h1v1h-1zM78 205h1v1h-1zM536 205h1v1h-1zM78 206h1v1h-1zM536 206h1v1h-1zM78 207h1v1h-1zM536 207h1v1h-1zM78 208h1v1h-1zM536 208h1v1h-1zM78 209h1v1h-1zM536 209h1v1h-1zM78 210h1v1h-1zM536 210h1v1h-1zM78 211h1v1h-1zM536 211h1v1h-1zM78 212h1v1h-1zM536 212h1v1h-1zM78 213h1v1h-1zM536 213h1v1h-1zM78 214h1v1h-1zM536 214h1v1h-1zM78 215h1v1h-1zM536 215h1v1h-1zM78 216h1v1h-1zM536 216h1v1h-1zM78 217h1v1h-1zM536 217h1v1h-1zM78 218h1v1h-1zM536 218h1v1h-1zM78 219h1v1h-1zM536 219h1v1h-1zM78 220h1v1h-1zM536 220h1v1h-1zM78 221h1v1h-1zM536 221h1v1h-1zM78 222h1v1h-1zM536 222h1v1h-1zM78 223h1v1h-1zM536 223h1v1h-1zM78 224h1v1h-1zM536 224h1v1h-1zM78 225h1v1h-1zM536 225h1v1h-1zM78 226h1v1h-1zM536 226h1v1h-1zM78 227h1v1h-1zM536 227h1v1h-1zM78 228h1v1h-1zM536 228h1v1h-1zM78 229h1v1h-1zM536 229h1v1h-1zM78 230h1v1h-1zM536 230h1v1h-1zM78 231h1v1h-1zM536 231h1v1h-1zM78 232h1v1h-1zM536 232h1v1h-1zM78 233h1v1h-1zM536 233h1v1h-1zM78 234h1v1h-1zM536 234h1v1h-1zM78 235h1v1h-1zM536 235h1v1h-1zM78 236h1v1h-1zM536 236h1v1h-1zM78 237h1v1h-1zM536 237h1v1h-1zM78 238h1v1h-1zM536 238h1v1h-1zM74 239h5v1h-5zM536 239h1v1h-1zM78 240h1v1h-1zM536 240h1v1h-1zM78 241h1v1h-1zM536 241h1v1h-1zM78 242h1v1h-1zM536 242h1v1h-1zM78 243h1v1h-1zM536 243h1v1h-1zM78 244h1v1h-1zM536 244h1v1h-1zM78 245h1v1h-1zM536 245h1v1h-1zM78 246h1v1h-1zM536 246h1v1h-1zM78 247h1v1h-1zM536 247h1v1h-1zM78 248h1v1h-1zM536 248h1v1h-1zM78 249h1v1h-1zM536 249h1v1h-1zM78 250h1v1h-1zM536 250h1v1h-1zM78 251h1v1h-1zM536 251h1v1h-1zM78 252h1v1h-1zM536 252h1v1h-1zM78 253h1v1h-1zM536 253h1v1h-1zM78 254h1v1h-1zM536 254h1v1h-1zM78 255h1v1h-1zM536 255h1v1h-1zM78 256h1v1h-1zM536 256h1v1h-1zM78 257h1v1h-1zM536 257h1v1h-1zM78 258h1v1h-1zM536 258h1v1h-1zM78 259h1v1h-1zM536 259h1v1h-1zM78 260h1v1h-1zM536 260h1v1h-1zM78 261h1v1h-1zM536 261h1v1h-1zM78 262h1v1h-1zM536 262h1v1h-1zM78 263h1v1h-1zM536 263h1v1h-1zM78 264h1v1h-1zM536 264h1v1h-1zM78 265h1v1h-1zM536 265h1v1h-1zM78 266h1v1h-1zM536 266h5v1h-5zM78 267h1v1h-1zM536 267h1v1h-1zM78 268h1v1h-1zM536 268h1v1h-1zM78 269h1v1h-1zM536 269h1v1h-1zM78 270h1v1h-1zM536 270h1v1h-1zM78 271h1v1h-1zM536 271h1v1h-1zM78 272h1v1h-1zM536 272h1v1h-1zM78 273h1v1h-1zM536 273h1v1h-1zM78 274h1v1h-1zM536 274h1v1h-1zM78 275h1v1h-1zM536 275h1v1h-1zM78 276h1v1h-1zM536 276h1v1h-1zM78 277h1v1h-1zM536 277h1v1h-1zM78 278h1v1h-1zM536 278h1v1h-1zM78 279h1v1h-1zM536 279h1v1h-1zM78 280h1v1h-1zM536 280h1v1h-1zM74 281h5v1h-5zM536 281h1v1h-1zM78 282h1v1h-1zM536 282h1v1h-1zM78 283h1v1h-1zM536 283h1v1h-1zM78 284h1v1h-1zM536 284h1v1h-1zM78 285h1v1h-1zM536 285h1v1h-1zM78 286h1v1h-1zM536 286h1v1h-1zM78 287h1v1h-1zM536 287h1v1h-1zM78 288h1v1h-1zM536 288h1v1h-1zM78 289h1v1h-1zM536 289h1v1h-1zM78 290h1v1h-1zM536 290h1v1h-1zM78 291h1v1h-1zM536 291h1v1h-1zM78 292h1v1h-1zM536 292h1v1h-1zM78 293h1v1h-1zM536 293h1v1h-1zM78 294h1v1h-1zM536 294h1v1h-1zM78 295h1v1h-1zM536 295h1v1h-1zM78 296h1v1h-1zM536 296h1v1h-1zM78 297h1v1h-1zM536 297h1v1h-1zM78 298h1v1h-1zM536 298h1v1h-1zM78 299h1v1h-1zM536 299h1v1h-1zM78 300h1v1h-1zM536 300h1v1h-1zM78 301h1v1h-1zM536 301h1v1h-1zM78 302h1v1h-1zM536 302h1v1h-1zM78 303h1v1h-1zM536 303h1v1h-1zM78 304h1v1h-1zM536 304h1v1h-1zM78 305h1v1h-1zM536 305h1v1h-1zM78 306h1v1h-1zM536 306h1v1h-1zM78 307h1v1h-1zM536 307h1v1h-1zM78 308h1v1h-1zM536 308h1v1h-1zM78 309h1v1h-1zM536 309h1v1h-1zM78 310h1v1h-1zM536 310h1v1h-1zM78 311h1v1h-1zM536 311h1v1h-1zM78 312h1v1h-1zM536 312h1v1h-1zM78 313h1v1h-1zM536 313h1v1h-1zM78 314h1v1h-1zM536 314h1v1h-1zM78 315h1v1h-1zM536 315h1v1h-1zM78 316h1v1h-1zM536 316h1v1h-1zM78 317h1v1h-1zM536 317h1v1h-1zM78 318h1v1h-1zM536 318h1v1h-1zM78 319h1v1h-1zM536 319h1v1h-1zM78 320h1v1h-1zM536 320h1v1h-1zM78 321h1v1h-1zM536 321h1v1h-1zM78 322h1v1h-1zM536 322h1v1h-1zM74 323h5v1h-5zM536 323h1v1h-1zM78 324h1v1h-1zM536 324h1v1h-1zM78 325h1v1h-1zM536 325h1v1h-1zM78 326h1v1h-1zM536 326h1v1h-1zM78 327h1v1h-1zM536 327h1v1h-1zM78 328h1v1h-1zM536 328h1v1h-1zM78 329h1v1h-1zM536 329h1v1h-1zM78 330h1v1h-1zM536 330h1v1h-1zM78 331h1v1h-1zM536 331h1v1h-1zM78 332h1v1h-1zM536 332h1v1h-1zM78 333h1v1h-1zM536 333h1v1h-1zM78 334h1v1h-1zM536 334h1v1h-1zM78 335h1v1h-1zM536 335h1v1h-1zM78 336h1v1h-1zM536 336h1v1h-1zM78 337h1v1h-1zM536 337h1v1h-1zM78 338h1v1h-1zM536 338h1v1h-1zM78 339h1v1h-1zM536 339h1v1h-1zM78 340h1v1h-1zM536 340h5v1h-5zM78 341h1v1h-1zM536 341h1v1h-1zM78 342h1v1h-1zM536 342h1v1h-1zM78 343h1v1h-1zM536 343h1v1h-1zM78 344h1v1h-1zM536 344h1v1h-1zM78 345h1v1h-1zM536 345h1v1h-1zM78 346h1v1h-1zM536 346h1v1h-1zM78 347h1v1h-1zM536 347h1v1h-1zM78 348h1v1h-1zM536 348h1v1h-1zM78 349h1v1h-1zM536 349h1v1h-1zM78 350h1v1h-1zM536 350h1v1h-1zM78 351h1v1h-1zM536 351h1v1h-1zM78 352h1v1h-1zM536 352h1v1h-1zM78 353h1v1h-1zM536 353h1v1h-1zM78 354h1v1h-1zM536 354h1v1h-1zM78 355h1v1h-1zM536 355h1v1h-1zM78 356h1v1h-1zM536 356h1v1h-1zM78 357h1v1h-1zM536 357h1v1h-1zM78 358h1v1h-1zM536 358h1v1h-1zM78 359h1v1h-1zM536 359h1v1h-1zM78 360h1v1h-1zM536 360h1v1h-1zM78 361h1v1h-1zM536 361h1v1h-1zM78 362h1v1h-1zM536 362h1v1h-1zM78 363h1v1h-1zM536 363h1v1h-1zM78 364h1v1h-1zM536 364h1v1h-1zM74 365h5v1h-5zM536 365h1v1h-1zM78 366h1v1h-1zM536 366h1v1h-1zM78 367h1v1h-1zM536 367h1v1h-1zM78 368h1v1h-1zM536 368h1v1h-1zM78 369h1v1h-1zM536 369h1v1h-1zM78 370h1v1h-1zM536 370h1v1h-1zM78 371h1v1h-1zM536 371h1v1h-1zM78 372h1v1h-1zM536 372h1v1h-1zM78 373h1v1h-1zM536 373h1v1h-1zM78 374h1v1h-1zM536 374h1v1h-1zM78 375h1v1h-1zM536 375h1v1h-1zM78 376h1v1h-1zM536 376h1v1h-1zM78 377h1v1h-1zM536 377h1v1h-1zM78 378h1v1h-1zM536 378h1v1h-1zM78 379h1v1h-1zM536 379h1v1h-1zM78 380h1v1h-1zM536 380h1v1h-1zM78 381h1v1h-1zM536 381h1v1h-1zM78 382h1v1h-1zM536 382h1v1h-1zM78 383h1v1h-1zM536 383h1v1h-1zM78 384h1v1h-1zM536 384h1v1h-1zM78 385h1v1h-1zM536 385h1v1h-1zM78 386h1v1h-1zM536 386h1v1h-1zM78 387h1v1h-1zM536 387h1v1h-1zM78 388h1v1h-1zM536 388h1v1h-1zM78 389h1v1h-1zM536 389h1v1h-1zM78 390h1v1h-1zM536 390h1v1h-1zM78 391h1v1h-1zM536 391h1v1h-1zM78 392h1v1h-1zM536 392h1v1h-1zM78 393h1v1h-1zM536 393h1v1h-1zM78 394h1v1h-1zM536 394h1v1h-1zM78 395h1v1h-1zM536 395h1v1h-1zM78 396h1v1h-1zM536 396h1v1h-1zM78 397h1v1h-1zM536 397h1v1h-1zM78 398h1v1h-1zM536 398h1v1h-1zM78 399h1v1h-1zM536 399h1v1h-1zM78 400h1v1h-1zM536 400h1v1h-1zM78 401h1v1h-1zM536 401h1v1h-1zM78 402h1v1h-1zM536 402h1v1h-1zM78 403h1v1h-1zM536 403h1v1h-1zM78 404h1v1h-1zM536 404h1v1h-1zM78 405h1v1h-1zM536 405h1v1h-1zM78 406h1v1h-1zM536 406h1v1h-1zM74 407h5v1h-5zM536 407h1v1h-1zM78 408h1v1h-1zM536 408h1v1h-1zM78 409h1v1h-1zM536 409h1v1h-1zM78 410h1v1h-1zM536 410h1v1h-1zM78 411h1v1h-1zM536 411h1v1h-1zM78 412h1v1h-1zM536 412h1v1h-1zM78 413h1v1h-1zM536 413h1v1h-1zM78 414h1v1h-1zM536 414h1v1h-1zM78 415h463v1h-463zM78 416h1v1h-1zM143 416h1v1h-1zM209 416h1v1h-1zM274 416h1v1h-1zM340 416h1v1h-1zM405 416h1v1h-1zM471 416h1v1h-1zM536 416h1v1h-1zM78 417h1v1h-1zM143 417h1v1h-1zM209 417h1v1h-1zM274 417h1v1h-1zM340 417h1v1h-1zM405 417h1v1h-1zM471 417h1v1h-1zM536 417h1v1h-1zM78 418h1v1h-1zM143 418h1v1h-1zM209 418h1v1h-1zM274 418h1v1h-1zM340 418h1v1h-1zM405 418h1v1h-1zM471 418h1v1h-1zM536 418h1v1h-1zM78 419h1v1h-1zM143 419h1v1h-1zM209 419h1v1h-1zM274 419h1v1h-1zM340 419h1v1h-1zM405 419h1v1h-1zM471 419h1v1h-1zM536 419h1v1h-1z"/>
</g>
</svg>
</body></html>
